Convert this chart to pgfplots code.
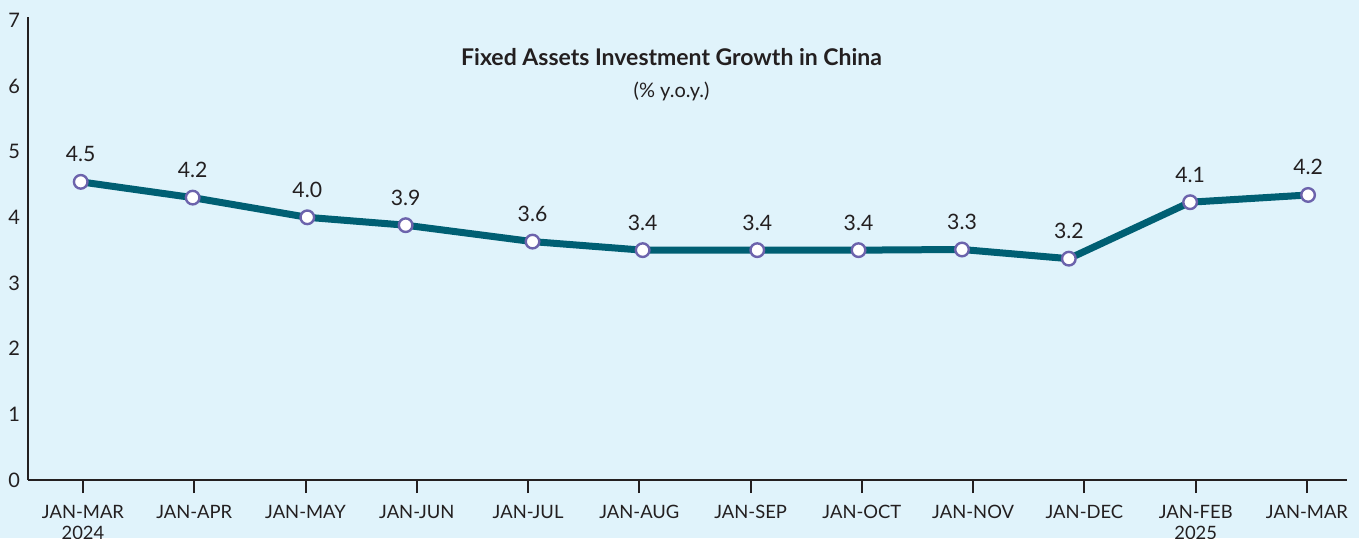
\documentclass[border=0pt]{standalone}
\usepackage{pgfplots}
\pgfplotsset{compat=1.18}
\usepackage{fontspec}
\setmainfont{Lato}
\definecolor{bg}{HTML}{E0F3FB}
\definecolor{linec}{HTML}{005F73}
\definecolor{markc}{HTML}{6C63AC}
\definecolor{txt}{HTML}{231F20}
\begin{document}
\begin{tikzpicture}
\fill[bg] (-14pt,-29pt) rectangle (665.5pt,240pt);
\useasboundingbox (-14pt,-29pt) rectangle (665.5pt,240pt);
\begin{axis}[
  at={(0,0)}, anchor=south west,
  scale only axis, width=659.5pt, height=231.5pt,
  xmin=-0.494, xmax=11.36, ymin=0, ymax=7.05,
  axis x line*=bottom, axis y line*=left,
  axis line style={txt, line width=1pt, -},
  xtick={0,...,11},
  xticklabels={{JAN-MAR\\2024},JAN-APR,JAN-MAY,JAN-JUN,JAN-JUL,JAN-AUG,JAN-SEP,JAN-OCT,JAN-NOV,JAN-DEC,{JAN-FEB\\2025},JAN-MAR},
  xticklabel style={align=center, font=\fontsize{9.2}{10.8}\selectfont, text=txt, yshift=-2.5pt},
  x tick style={txt, line width=1pt},
  tick align=outside, major tick length=6.5pt,
  ytick={0,...,7},
  ytick style={draw=none},
  yticklabel style={font=\fontsize{10}{12}\selectfont, text=txt, xshift=6pt},
  /pgf/number format/assume math mode=true,
  clip=false,
  nodes near coords, point meta=explicit symbolic,
  every node near coord/.style={font=\fontsize{10.6}{12}\selectfont, text=txt, anchor=south, yshift=6pt},
]
\addplot[color=linec, line width=3.5pt, mark=*, mark size=3.4pt,
  mark options={fill=white, draw=markc, line width=1.2pt}]
  table[meta=lab] {
x y lab
-0.02 4.54 4.5
0.986 4.30 4.2
2.016 4.00 4.0
2.90 3.88 3.9
4.04 3.63 3.6
5.03 3.50 3.4
6.06 3.50 3.4
6.97 3.50 3.4
7.90 3.51 3.3
8.86 3.37 3.2
9.95 4.23 4.1
11.01 4.34 4.2
};
\node[font=\bfseries\fontsize{11.5}{13}\selectfont, text=txt] at (axis cs:5.29,6.44) {Fixed Assets Investment Growth in China};
\node[font=\fontsize{10}{12}\selectfont, text=txt] at (axis cs:5.29,5.92) {(\% y.o.y.)};
\end{axis}
\end{tikzpicture}
\end{document}
